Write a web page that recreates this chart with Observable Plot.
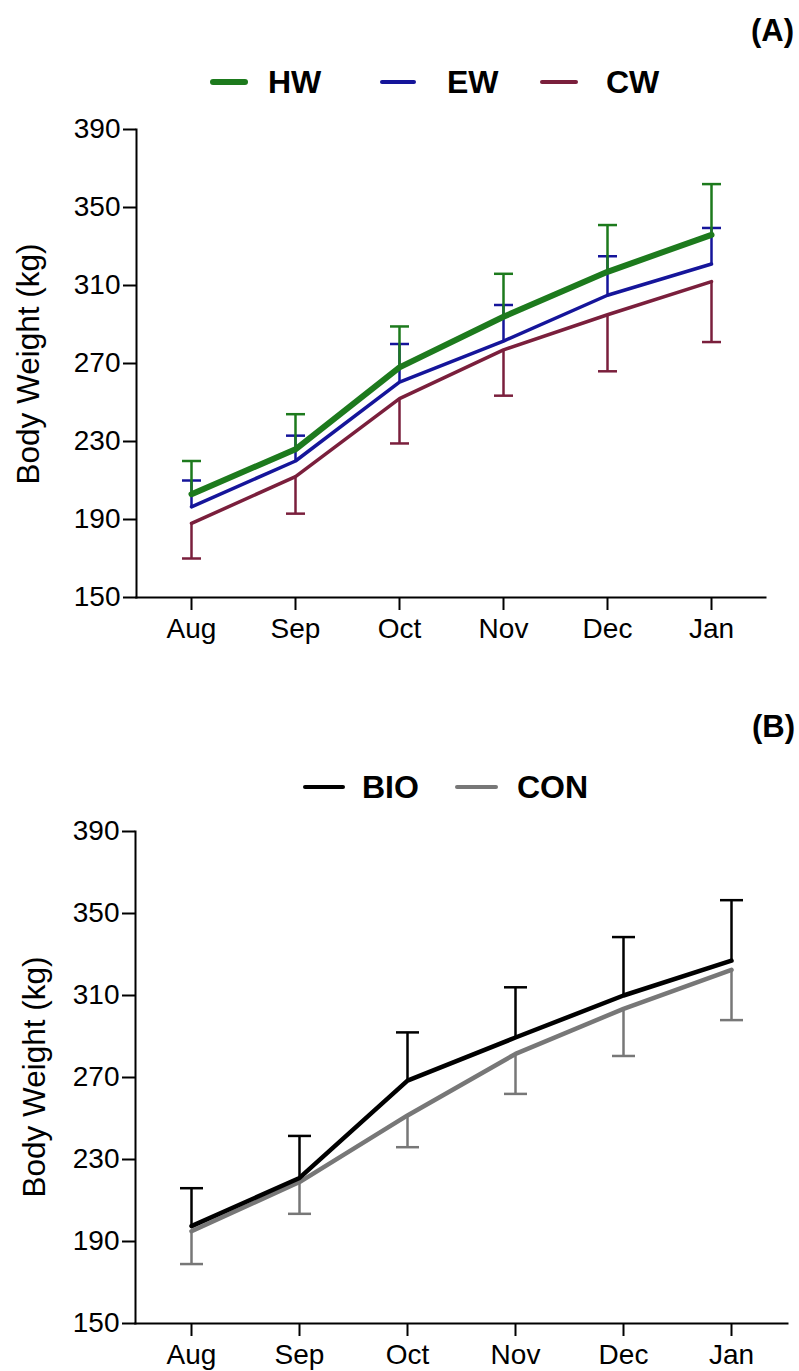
<!DOCTYPE html>
<html>
<head>
<meta charset="utf-8">
<script src="https://cdn.jsdelivr.net/npm/d3@7"></script>
<script src="https://cdn.jsdelivr.net/npm/@observablehq/plot@0.6"></script>
<style>
  html, body { margin: 0; padding: 0; background: #fff; }
  #wrap { position: relative; width: 799px; height: 1371px; font-family: "Liberation Sans", Arial, Helvetica, sans-serif; color: #000; overflow: hidden; }
  .abs { position: absolute; line-height: 1; white-space: nowrap; }
  .leg { font-weight: bold; font-size: 32px; }
  .tag { font-weight: bold; font-size: 31px; }
  .sw { position: absolute; border-radius: 3px; }
  .ytitle { font-size: 31.5px; transform: translate(-50%, -50%) rotate(-90deg); }
  svg { position: absolute; left: 0; }
</style>
</head>
<body>
<div id="wrap"></div>
<script>
// ---------- data ----------
const months = ["Aug", "Sep", "Oct", "Nov", "Dec", "Jan"];
const yTicks = [150, 190, 230, 270, 310, 350, 390];

// Panel A
const hwMean = [203, 226, 268, 294, 317, 336];
const hwUpper = [220, 244, 289, 316, 341, 362];
const ewMean = [196.5, 220, 260.5, 281.5, 305, 321];
const ewUpper = [210, 233, 280, 300, 325, 339.5];
const cwMean = [188, 212, 252, 277, 295, 312];
const cwLower = [170, 193, 229, 253.5, 266, 281];

// Panel B
const bioMean = [197.5, 221, 268.5, 289.5, 310, 327];
const bioUpper = [216, 241.5, 292, 314, 338.5, 356.5];
const conMean = [195, 219, 251.5, 281.5, 303.5, 322.5];
const conLower = [179, 203.5, 236, 262, 280.5, 298];

const colors = { HW: "#1d7a1d", EW: "#15159a", CW: "#7a1f3c", BIO: "#000000", CON: "#777777" };

// ---------- helpers ----------
const rows = (mean, bar) => months.map((m, i) => ({ month: m, mean: mean[i], bar: bar[i] }));
const hbar = { draw(context, size) { const r = Math.sqrt(size / Math.PI); context.moveTo(-r, 0); context.lineTo(r, 0); } };

function series(data, color, lw, cap) {
  return [
    Plot.ruleX(data, { x: "month", y1: "mean", y2: "bar", stroke: color, strokeWidth: 2.5 }),
    Plot.dot(data, { x: "month", y: "bar", symbol: hbar, r: cap, stroke: color, strokeWidth: 2.5, fill: "none" })
  ];
}
function line(data, color, lw) {
  return Plot.line(data, { x: "month", y: "mean", stroke: color, strokeWidth: lw, strokeLinejoin: "round", strokeLinecap: "round" });
}

function panel(opts, marks) {
  return Plot.plot({
    width: 799,
    height: opts.height,
    marginTop: opts.mt,
    marginBottom: opts.mb,
    marginLeft: opts.ml,
    marginRight: opts.mr,
    style: { fontFamily: "'Liberation Sans', Arial, Helvetica, sans-serif", fontSize: "28px", color: "#000", background: "transparent" },
    x: { type: "point", domain: months, padding: 0.5 },
    y: { domain: [150, 390] },
    marks: [
      ...marks,
      Plot.axisY({ ticks: yTicks, tickSize: 13, tickPadding: 3, label: null, strokeWidth: 2, fontSize: 28 }),
      Plot.axisX({ tickSize: 13, tickPadding: 8, label: null, strokeWidth: 2, fontSize: 28 }),
      Plot.frame({ anchor: "left", strokeWidth: 2 }),
      Plot.frame({ anchor: "bottom", strokeWidth: 2 })
    ]
  });
}

const wrap = document.getElementById("wrap");

// Panel A
const A = panel({ height: 660, mt: 129, mb: 63, ml: 136, mr: 34 }, [
  ...series(rows(cwMean, cwLower), colors.CW, 3.5, 9.5),
  ...series(rows(ewMean, ewUpper), colors.EW, 3.5, 9.5),
  ...series(rows(hwMean, hwUpper), colors.HW, 6, 9.5),
  line(rows(cwMean, cwLower), colors.CW, 3.5),
  line(rows(ewMean, ewUpper), colors.EW, 3.5),
  line(rows(hwMean, hwUpper), colors.HW, 6)
]);
A.style.top = "0px";
wrap.appendChild(A);

// Panel B
const B = panel({ height: 671, mt: 131, mb: 48, ml: 135, mr: 12 }, [
  ...series(rows(conMean, conLower), colors.CON, 4.5, 11.5),
  ...series(rows(bioMean, bioUpper), colors.BIO, 4.5, 11.5),
  line(rows(conMean, conLower), colors.CON, 4.5),
  line(rows(bioMean, bioUpper), colors.BIO, 4.5)
]);
B.style.top = "700px";
wrap.appendChild(B);

// ---------- HTML text: tags, legends, y titles ----------
function addText(cls, txt, left, top, extra) {
  const d = document.createElement("div");
  d.className = "abs " + cls;
  d.textContent = txt;
  d.style.left = left + "px";
  d.style.top = top + "px";
  if (extra) Object.assign(d.style, extra);
  wrap.appendChild(d);
}
function addSwatch(color, left, cy, w, h) {
  const s = document.createElement("div");
  s.className = "sw";
  s.style.background = color;
  s.style.left = left + "px";
  s.style.top = (cy - h / 2) + "px";
  s.style.width = w + "px";
  s.style.height = h + "px";
  wrap.appendChild(s);
}

addText("tag", "(A)", 751, 15);
addSwatch(colors.HW, 210, 82, 38, 5.5);
addText("leg", "HW", 268, 66);
addSwatch(colors.EW, 380, 82, 36, 3.5);
addText("leg", "EW", 447, 66);
addSwatch(colors.CW, 540, 82, 38, 3.5);
addText("leg", "CW", 606, 66);
addText("ytitle", "Body Weight (kg)", 29, 364);

addText("tag", "(B)", 752, 711);
addSwatch(colors.BIO, 303, 787, 42, 4.5);
addText("leg", "BIO", 362, 771);
addSwatch(colors.CON, 455, 787, 43, 4.5);
addText("leg", "CON", 517, 771);
addText("ytitle", "Body Weight (kg)", 35, 1077);
</script>
</body>
</html>
